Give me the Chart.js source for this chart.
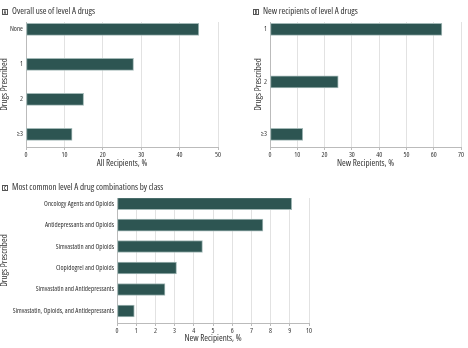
<!DOCTYPE html>
<html>
<head>
<meta charset="utf-8">
<script src="https://cdn.jsdelivr.net/npm/chart.js@4.4.1/dist/chart.umd.min.js"></script>
<style>
    body { margin: 0; background: #fff; width: 468px; height: 348px; position: relative; overflow: hidden;
           font-family: 'Open Sans', sans-serif; font-stretch: condensed; }
    .panel { position: absolute; }
    .ttl { position: absolute; font-size: 9px; line-height: 9px; color: #333; white-space: nowrap;
           will-change: transform; }
    .ttl b { display: inline-block; box-sizing: border-box; width: 6px; height: 6px; border: 0.8px solid #555;
             font-size: 4.5px; line-height: 4.5px; text-align: center; margin-right: 4px; vertical-align: 0; }
</style>
</head>
<body>
<div class="ttl" style="left:2px;top:6px"><b>A</b>Overall use of level A drugs</div>
<div class="ttl" style="left:253px;top:6px"><b>B</b>New recipients of level A drugs</div>
<div class="ttl" style="left:2px;top:182px"><b>C</b>Most common level A drug combinations by class</div>

<div class="panel" style="left:0;top:0;width:232px;height:172px"><canvas id="chartA"></canvas></div>
<div class="panel" style="left:232px;top:0;width:236px;height:172px"><canvas id="chartB"></canvas></div>
<div class="panel" style="left:0;top:172px;width:468px;height:176px"><canvas id="chartC"></canvas></div>

<script>
// 데이터
const overallLabels = ['None', '1', '2', '≥3'];
const overallValues = [45, 28, 15, 12];

const newLabels = ['1', '2', '≥3'];
const newValues = [63, 25, 12];

const comboLabels = [
    'Oncology Agents and Opioids',
    'Antidepressants and Opioids',
    'Simvastatin and Opioids',
    'Clopidogrel and Opioids',
    'Simvastatin and Antidepressants',
    'Simvastatin, Opioids, and Antidepressants'
];
const comboValues = [9.1, 7.6, 4.45, 3.1, 2.5, 0.9];

// 'condensed' goes into the weight slot so the canvas font string picks the narrow face
Chart.defaults.font.family = "'Open Sans', sans-serif";
Chart.defaults.font.weight = 'condensed';
Chart.defaults.font.size = 7;
Chart.defaults.color = '#333';

const titleFont = { size: 9, weight: 'condensed' };

function makeBarChart(id, labels, values, cfg) {
    const ctx = document.getElementById(id);
    return new Chart(ctx, {
        type: 'bar',
        data: {
            datasets: [{
                data: values.map((v, i) => ({ x: v, y: i })),
                backgroundColor: '#2d5552',
                borderColor: '#a3b9b7',
                borderWidth: 1,
                borderSkipped: false,
                barThickness: 12
            }]
        },
        options: {
            indexAxis: 'y',
            responsive: true,
            maintainAspectRatio: false,
            animation: false,
            layout: { padding: { top: cfg.top, right: cfg.right, left: 0, bottom: 0 } },
            plugins: { legend: { display: false }, tooltip: { enabled: false } },
            scales: {
                x: {
                    min: 0,
                    max: cfg.xMax,
                    ticks: { stepSize: cfg.xStep, padding: 1, maxRotation: 0 },
                    grid: { color: '#e2e2e2', tickLength: 3, tickColor: '#bbb' },
                    border: { color: '#bbb' },
                    title: { display: true, text: cfg.xTitle, font: titleFont, padding: { top: 0, bottom: cfg.xTitlePad } },
                    afterFit: s => { s.height = cfg.xHeight; }
                },
                y: {
                    type: 'linear',
                    reverse: true,
                    offset: false,
                    min: cfg.yMin,
                    max: cfg.yMax,
                    afterBuildTicks: s => { s.ticks = labels.map((_, i) => ({ value: i })); },
                    ticks: { padding: 3, callback: v => labels[v] },
                    grid: { display: false, drawTicks: false, offset: false },
                    border: { color: '#bbb' },
                    title: { display: true, text: 'Drugs Prescribed', font: titleFont, padding: { top: cfg.yTitlePad, bottom: 0 } },
                    afterFit: s => { s.width = cfg.yWidth; }
                }
            }
        }
    });
}

makeBarChart('chartA', overallLabels, overallValues, {
    top: 22, right: 14, yWidth: 26, xHeight: 25, yTitlePad: -1, xTitlePad: 3.6,
    xMax: 50, xStep: 10, xTitle: 'All Recipients, %', yMin: -0.21, yMax: 3.36
});

makeBarChart('chartB', newLabels, newValues, {
    top: 22, right: 7, yWidth: 38, xHeight: 25, yTitlePad: 20.6, xTitlePad: 3.6,
    xMax: 70, xStep: 10, xTitle: 'New Recipients, %', yMin: -0.14, yMax: 2.24
});

makeBarChart('chartC', comboLabels, comboValues, {
    top: 26, right: 159, yWidth: 117, xHeight: 25, yTitlePad: -1, xTitlePad: 4.6,
    xMax: 10, xStep: 1, xTitle: 'New Recipients, %', yMin: -0.26, yMax: 5.56
});
</script>
</body>
</html>
